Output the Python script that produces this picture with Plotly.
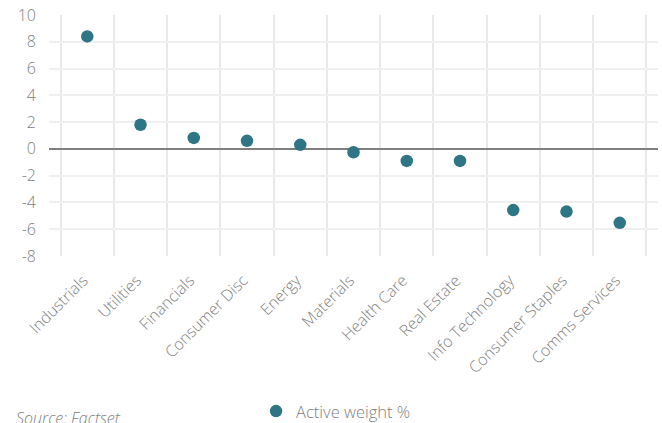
import plotly.graph_objects as go

categories = ["Industrials", "Utilities", "Financials", "Consumer Disc", "Energy",
              "Materials", "Health Care", "Real Estate", "Info Technology",
              "Consumer Staples", "Comms Services"]
active_weight = [8.4, 1.8, 0.82, 0.6, 0.3, -0.25, -0.9, -0.9, -4.57, -4.68, -5.52]
y_ticks = [10, 8, 6, 4, 2, 0, -2, -4, -6, -8]
y_tick_text = ["10", "8", "6", "4", "2", "0", "-2", "-4", "-6", "-8"]

FONT = "Open Sans"
GREY = "#808080"

fig = go.Figure()
fig.add_trace(go.Scatter(
    x=categories, y=active_weight, mode="markers", name="Active weight %",
    marker=dict(color="#2e7585", size=12.5, line=dict(width=0)),
))

fig.update_layout(
    width=662, height=423,
    margin=dict(l=49, r=4, t=15, b=167, autoexpand=False),
    paper_bgcolor="white", plot_bgcolor="white",
    font=dict(family=FONT, color=GREY, size=15, weight=300),
    showlegend=True,
    legend=dict(orientation="h", x=0.34, xanchor="left", y=-0.572, yanchor="top",
                font=dict(size=16.5, color=GREY, family=FONT, weight=300),
                itemwidth=30, bgcolor="rgba(0,0,0,0)"),
    xaxis=dict(type="category", tickson="boundaries", showgrid=True,
               gridcolor="#e8e8e8", gridwidth=1.5, tickangle=-45,
               ticks="", showline=False, zeroline=False, automargin=False,
               ticklabelstandoff=11, ticklabelshift=-4,
               tickfont=dict(size=16, color=GREY, family=FONT, weight=300)),
    yaxis=dict(range=[-8, 10], tickvals=y_ticks, ticktext=y_tick_text, showgrid=True,
               gridcolor="#efefef", gridwidth=1.5, zeroline=True,
               zerolinecolor="#7f7f7f", zerolinewidth=2, ticks="", automargin=False,
               ticklabelstandoff=12,
               tickfont=dict(size=16, color=GREY, family=FONT, weight=300)),
    annotations=[dict(text="<i>Source: Factset</i>", xref="paper", yref="paper",
                      x=-0.058, y=-0.62, xanchor="left", yanchor="top", showarrow=False,
                      font=dict(size=16, color=GREY, family=FONT, weight=300))],
)

fig.write_html("out.html")
